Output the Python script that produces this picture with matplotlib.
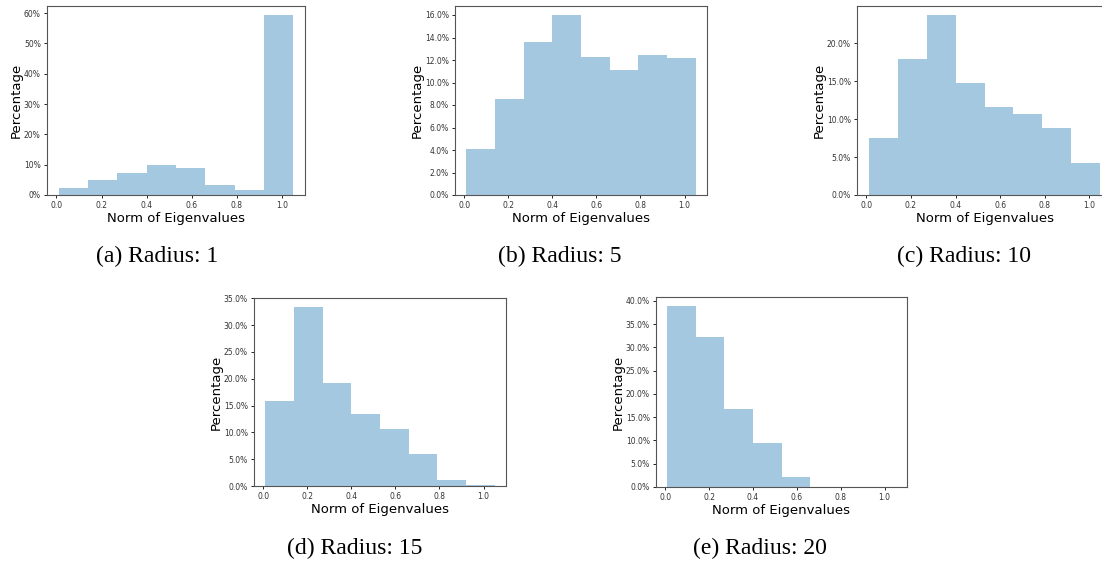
import matplotlib
matplotlib.use("Agg")
import matplotlib.pyplot as plt
from matplotlib.ticker import PercentFormatter, MultipleLocator

# bin edges of the eigenvalue norm histograms
bin_edges = [0.01, 0.14, 0.27, 0.40, 0.53, 0.66, 0.79, 0.92, 1.05]

# percentage per bin
radius_1 = [2.2, 4.9, 7.3, 10.0, 9.0, 3.3, 1.8, 59.4]
radius_5 = [4.1, 8.5, 13.6, 16.0, 12.3, 11.1, 12.4, 12.2]
radius_10 = [7.5, 17.9, 23.7, 14.7, 11.6, 10.7, 8.8, 4.2]
radius_15 = [15.9, 33.4, 19.2, 13.4, 10.7, 5.9, 1.1, 0.1]
radius_20 = [38.9, 32.2, 16.7, 9.4, 2.1, 0.1, 0.0, 0.0]

captions = ["(a) Radius: 1", "(b) Radius: 5", "(c) Radius: 10",
            "(d) Radius: 15", "(e) Radius: 20"]

W, H = 1102, 566
fig = plt.figure(figsize=(W / 100, H / 100), dpi=100)

def px_axes(left, top, right, bottom):
    return fig.add_axes([left / W, 1 - bottom / H, (right - left) / W, (bottom - top) / H])

# axes boxes in pixels: left, top, right, bottom
boxes = [(47, 6, 305, 195), (455, 6, 707, 195), (857, 6, 1112, 195),
         (254, 298, 506, 486), (656, 297, 907, 487)]
series = [radius_1, radius_5, radius_10, radius_15, radius_20]
steps = [10, 2, 5, 5, 5]
decimals = [0, 1, 1, 1, 1]
caption_pos = [(157, 256), (560, 256), (964, 256), (355, 548), (760, 548)]

for box, vals, step, dec in zip(boxes, series, steps, decimals):
    ax = px_axes(*box)
    ax.hist(bin_edges[:-1], bins=bin_edges, weights=vals, color="#1f77b4", alpha=0.4)
    ax.yaxis.set_major_locator(MultipleLocator(step))
    ax.yaxis.set_major_formatter(PercentFormatter(xmax=100, decimals=dec))
    ax.set_xticks([0.0, 0.2, 0.4, 0.6, 0.8, 1.0])
    ax.tick_params(labelsize=5.5, length=2.5, width=0.6, pad=2, labelcolor="#333333")
    for s in ax.spines.values():
        s.set_linewidth(0.8)
        s.set_color("#555555")
    ax.set_xlabel("Norm of Eigenvalues", fontsize=9.5, labelpad=1)
    ax.set_ylabel("Percentage", fontsize=9.5, labelpad=0.5)

for text, (x, y) in zip(captions, caption_pos):
    fig.text(x / W, 1 - y / H, text, ha="center", va="center",
             fontsize=17, family="Liberation Serif")

fig.savefig("out.png", dpi=100)
